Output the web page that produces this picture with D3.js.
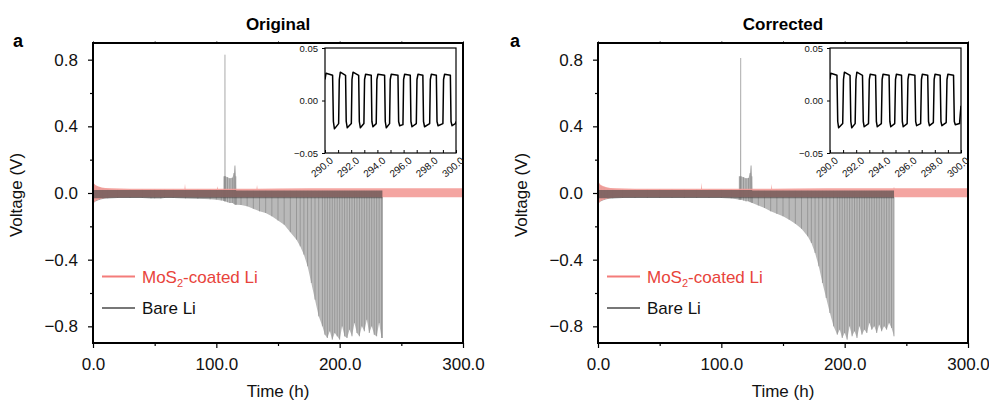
<!DOCTYPE html>
<html><head><meta charset="utf-8">
<script src="https://cdn.jsdelivr.net/npm/d3@7"></script>
<style>
body{margin:0;background:#fff}
svg{display:block}
text{font-family:"Liberation Sans",Arial,Helvetica,sans-serif}
</style>
</head><body>
<svg id="c" width="989" height="402"></svg>
<script>
// ---------- tick labels ----------
const xTicks = [0, 100, 200, 300];
const xMinor = [50, 150, 250];
const yTicks = [-0.8, -0.4, 0, 0.4, 0.8];
const yMinor = [-0.6, -0.2, 0.2, 0.6];
const insetXTicks = [290, 292, 294, 296, 298, 300];
const insetXMinor = [291, 293, 295, 297, 299];
const insetYTicks = [-0.05, 0, 0.05];
const panelTitles = ["Original", "Corrected"];
const seriesNames = ["MoS2-coated Li", "Bare Li"];

// ---------- Original: bare Li envelope (h, V) ----------
const origBareT = [0, 1, 3, 5, 8, 12, 20, 30, 40, 47, 50, 55, 58, 65, 75, 85, 95, 100, 104, 106.1, 106.2, 106.9, 107.0, 107.2, 109, 111, 113, 114.3, 115.1, 115.8, 116.1, 120, 125, 130, 135, 140, 145, 150, 155, 160, 165, 168, 171, 174, 177, 180, 183, 186, 188, 190, 192, 194, 196, 198, 200, 202, 204, 206, 208, 210, 212, 214, 216, 218, 220, 222, 224, 226, 228, 230, 232, 234, 234.6];
const origBareMin = [-0.065, -0.055, -0.048, -0.042, -0.036, -0.032, -0.03, -0.03, -0.03, -0.032, -0.032, -0.032, -0.03, -0.03, -0.032, -0.035, -0.038, -0.04, -0.045, -0.047, -0.048, -0.05, -0.05, -0.05, -0.055, -0.06, -0.06, -0.065, -0.07, -0.07, -0.07, -0.072, -0.08, -0.095, -0.11, -0.12, -0.14, -0.165, -0.19, -0.235, -0.28, -0.32, -0.37, -0.44, -0.54, -0.64, -0.74, -0.8, -0.85, -0.87, -0.83, -0.88, -0.84, -0.86, -0.88, -0.8, -0.86, -0.87, -0.82, -0.86, -0.78, -0.84, -0.86, -0.8, -0.83, -0.76, -0.84, -0.8, -0.85, -0.86, -0.78, -0.87, -0.87];
const origBareMax = [0.06, 0.05, 0.04, 0.035, 0.028, 0.024, 0.02, 0.02, 0.02, 0.02, 0.02, 0.02, 0.02, 0.02, 0.02, 0.02, 0.02, 0.02, 0.02, 0.02, 0.1, 0.1, 0.83, 0.1, 0.095, 0.088, 0.092, 0.12, 0.165, 0.1, 0.015, 0.015, 0.015, 0.015, 0.015, 0.015, 0.015, 0.015, 0.015, 0.015, 0.015, 0.015, 0.015, 0.015, 0.015, 0.015, 0.015, 0.015, 0.015, 0.015, 0.015, 0.015, 0.015, 0.015, 0.015, 0.015, 0.015, 0.015, 0.015, 0.015, 0.015, 0.015, 0.015, 0.015, 0.015, 0.015, 0.015, 0.015, 0.015, 0.015, 0.015, 0.015, 0.015];

// ---------- Original: MoS2-coated Li envelope ----------
const origRedT = [0, 1, 2, 4, 7, 10, 15, 30, 50, 74.2, 74.6, 75.0, 90, 100.6, 101, 101.4, 120, 132.6, 133, 133.4, 150, 175, 200, 225, 250, 275, 300];
const origRedMax = [0.065, 0.055, 0.048, 0.04, 0.033, 0.03, 0.028, 0.026, 0.026, 0.026, 0.055, 0.026, 0.026, 0.026, 0.04, 0.026, 0.026, 0.026, 0.048, 0.026, 0.027, 0.028, 0.028, 0.028, 0.028, 0.028, 0.028];
const origRedMin = [-0.065, -0.055, -0.048, -0.04, -0.033, -0.03, -0.027, -0.025, -0.025, -0.025, -0.025, -0.025, -0.025, -0.025, -0.025, -0.025, -0.025, -0.025, -0.025, -0.025, -0.025, -0.025, -0.025, -0.025, -0.025, -0.025, -0.025];

// ---------- Original inset (290-300 h) ----------
const origInsetT = [290.00, 290.08, 290.58, 290.64, 290.72, 291.04, 291.09, 291.17, 291.57, 291.62, 291.70, 292.01, 292.06, 292.14, 292.57, 292.62, 292.70, 292.97, 293.02, 293.10, 293.53, 293.58, 293.66, 293.91, 293.96, 294.04, 294.55, 294.60, 294.68, 294.93, 294.98, 295.06, 295.57, 295.62, 295.70, 295.95, 296.00, 296.08, 296.51, 296.56, 296.64, 296.97, 297.02, 297.10, 297.47, 297.52, 297.60, 297.99, 298.04, 298.12, 298.50, 298.55, 298.63, 299.00, 299.05, 299.13, 299.57, 299.62, 299.70, 299.95, 300.0];
const origInsetV = [0.020, 0.026, 0.024, -0.020, -0.027, -0.022, 0.020, 0.027, 0.024, -0.020, -0.026, -0.022, 0.020, 0.027, 0.024, -0.020, -0.026, -0.022, 0.020, 0.025, 0.024, -0.020, -0.025, -0.022, 0.020, 0.025, 0.024, -0.020, -0.026, -0.022, 0.020, 0.025, 0.024, -0.020, -0.024, -0.023, 0.020, 0.025, 0.024, -0.020, -0.025, -0.022, 0.020, 0.025, 0.024, -0.020, -0.025, -0.022, 0.020, 0.025, 0.024, -0.020, -0.024, -0.022, 0.020, 0.025, 0.024, -0.020, -0.024, -0.022, -0.020];

// ---------- Corrected: bare Li envelope ----------
const corrBareT = [0, 1, 3, 5, 8, 12, 20, 30, 40, 50, 60, 70, 80, 90, 100, 108, 114.5, 114.6, 115.5, 115.7, 115.9, 118, 120, 122, 123.3, 124.1, 124.8, 125.1, 130, 135, 140, 145, 150, 155, 160, 165, 170, 173, 176, 179, 182, 185, 188, 191, 194, 196, 198, 200, 202, 204, 206, 208, 210, 212, 214, 216, 218, 220, 222, 224, 226, 228, 230, 232, 234, 236, 238, 240];
const corrBareMin = [-0.065, -0.055, -0.048, -0.042, -0.036, -0.032, -0.03, -0.03, -0.03, -0.03, -0.03, -0.03, -0.03, -0.03, -0.03, -0.032, -0.04, -0.04, -0.04, -0.04, -0.04, -0.045, -0.05, -0.05, -0.055, -0.055, -0.06, -0.06, -0.075, -0.09, -0.11, -0.125, -0.14, -0.16, -0.185, -0.215, -0.26, -0.3, -0.36, -0.44, -0.54, -0.63, -0.72, -0.8, -0.85, -0.82, -0.87, -0.84, -0.88, -0.8, -0.86, -0.83, -0.87, -0.8, -0.85, -0.82, -0.84, -0.78, -0.82, -0.8, -0.84, -0.79, -0.83, -0.8, -0.82, -0.78, -0.81, -0.86];
const corrBareMax = [0.06, 0.05, 0.04, 0.035, 0.028, 0.024, 0.02, 0.02, 0.02, 0.02, 0.02, 0.02, 0.02, 0.02, 0.02, 0.02, 0.02, 0.1, 0.1, 0.81, 0.1, 0.095, 0.088, 0.09, 0.12, 0.165, 0.1, 0.015, 0.015, 0.015, 0.015, 0.015, 0.015, 0.015, 0.015, 0.015, 0.015, 0.015, 0.015, 0.015, 0.015, 0.015, 0.015, 0.015, 0.015, 0.015, 0.015, 0.015, 0.015, 0.015, 0.015, 0.015, 0.015, 0.015, 0.015, 0.015, 0.015, 0.015, 0.015, 0.015, 0.015, 0.015, 0.015, 0.015, 0.015, 0.015, 0.015, 0.015];

// ---------- Corrected: MoS2-coated Li envelope ----------
const corrRedT = [0, 1, 2, 4, 7, 10, 15, 30, 50, 70, 83.6, 84, 84.4, 100, 120, 140.4, 140.8, 141.2, 160, 185, 210, 239.6, 240, 240.4, 260, 280, 300];
const corrRedMax = [0.075, 0.06, 0.05, 0.042, 0.034, 0.03, 0.028, 0.026, 0.026, 0.026, 0.026, 0.062, 0.026, 0.026, 0.026, 0.026, 0.054, 0.026, 0.027, 0.028, 0.028, 0.028, 0.036, 0.028, 0.028, 0.028, 0.028];
const corrRedMin = [-0.07, -0.058, -0.05, -0.042, -0.034, -0.03, -0.027, -0.025, -0.025, -0.025, -0.025, -0.025, -0.025, -0.025, -0.025, -0.025, -0.025, -0.025, -0.025, -0.025, -0.025, -0.025, -0.025, -0.025, -0.025, -0.025, -0.025];

// ---------- Corrected inset (290-300 h) ----------
const corrInsetT = [290.00, 290.06, 290.53, 290.59, 290.66, 290.97, 291.03, 291.10, 291.53, 291.59, 291.66, 291.92, 291.98, 292.05, 292.48, 292.54, 292.61, 292.94, 293.00, 293.07, 293.48, 293.54, 293.61, 293.92, 293.98, 294.05, 294.51, 294.57, 294.64, 294.94, 295.00, 295.07, 295.46, 295.52, 295.59, 295.89, 295.95, 296.02, 296.48, 296.54, 296.61, 296.92, 296.98, 297.05, 297.46, 297.52, 297.59, 297.89, 297.95, 298.02, 298.41, 298.47, 298.54, 298.87, 298.93, 299.00, 299.43, 299.49, 299.56, 299.89, 299.95, 300.0];
const corrInsetV = [0.020, 0.026, 0.024, -0.020, -0.026, -0.022, 0.020, 0.027, 0.024, -0.020, -0.026, -0.022, 0.020, 0.027, 0.024, -0.020, -0.025, -0.022, 0.020, 0.025, 0.024, -0.020, -0.025, -0.022, 0.020, 0.025, 0.024, -0.020, -0.025, -0.022, 0.020, 0.025, 0.024, -0.020, -0.025, -0.022, 0.020, 0.025, 0.024, -0.020, -0.024, -0.022, 0.020, 0.025, 0.024, -0.020, -0.024, -0.021, 0.020, 0.025, 0.024, -0.020, -0.024, -0.021, 0.020, 0.025, 0.024, -0.020, -0.023, -0.022, -0.012, -0.005];

// ---------- build panel table ----------
function rows(T, A, B) { return T.map((t, i) => ({t, lo: A[i], hi: B[i]})); }
const panels = [
  {title: panelTitles[0], x0: 93, letterX: 13,
   bare: rows(origBareT, origBareMin, origBareMax), red: rows(origRedT, origRedMin, origRedMax),
   inset: origInsetT.map((t, i) => ({t, v: origInsetV[i]}))},
  {title: panelTitles[1], x0: 598, letterX: 510,
   bare: rows(corrBareT, corrBareMin, corrBareMax), red: rows(corrRedT, corrRedMin, corrRedMax),
   inset: corrInsetT.map((t, i) => ({t, v: corrInsetV[i]}))}
];

const svg = d3.select("#c");
const minus = s => s.replace("-", "\u2212");
const FW = 370, FT = 43, FB = 343;

panels.forEach((p, pi) => {
  const g = svg.append("g");
  const x = d3.scaleLinear().domain([0, 300]).range([p.x0, p.x0 + FW]);
  const y = d3.scaleLinear().domain([-0.9, 0.9]).range([FB, FT]);

  const clipId = "clip" + pi;
  svg.append("clipPath").attr("id", clipId).append("rect")
    .attr("x", p.x0).attr("y", FT).attr("width", FW).attr("height", FB - FT);
  const plot = g.append("g").attr("clip-path", `url(#${clipId})`);

  // bare Li light grey envelope
  const area = d3.area().x(d => x(d.t)).y0(d => y(d.lo)).y1(d => y(d.hi));
  plot.append("path").datum(p.bare).attr("d", area).attr("fill", "#b9b9b9");
  plot.selectAll("line.bv").data(p.bare).join("line").attr("class", "bv")
    .attr("x1", d => x(d.t)).attr("x2", d => x(d.t))
    .attr("y1", d => y(d.lo)).attr("y2", d => y(d.hi))
    .attr("stroke", "#8a8a8a").attr("stroke-width", 0.7);

  // MoS2 pink band
  plot.append("path").datum(p.red).attr("d", area).attr("fill", "#f39b97").attr("opacity", 0.9);

  // dark core of bare Li band
  const core = d3.area().x(d => x(d.t))
    .y0(d => y(Math.max(d.lo, -0.032))).y1(d => y(Math.min(d.hi, 0.018)));
  plot.append("path").datum(p.bare).attr("d", core).attr("fill", "#444").attr("opacity", 0.62);

  // axes
  const fs = 17;
  const ax = g.append("g").attr("transform", `translate(0,${FB})`)
    .call(d3.axisBottom(x).tickValues(xTicks).tickSize(5).tickPadding(10).tickFormat(d3.format(".1f")));
  const axm = g.append("g").attr("transform", `translate(0,${FB})`)
    .call(d3.axisBottom(x).tickValues(xMinor).tickSize(3).tickFormat(""));
  const axt = g.append("g").attr("transform", `translate(0,${FT})`)
    .call(d3.axisTop(x).tickValues(xMinor.concat(xTicks)).tickSize(2).tickFormat(""));
  const ay = g.append("g").attr("transform", `translate(${p.x0},0)`)
    .call(d3.axisLeft(y).tickValues(yTicks).tickSize(5).tickPadding(10).tickFormat(d => minus(d3.format(".1f")(d))));
  const aym = g.append("g").attr("transform", `translate(${p.x0},0)`)
    .call(d3.axisLeft(y).tickValues(yMinor).tickSize(3).tickFormat(""));
  [ax, axm, axt, ay, aym].forEach(a => {
    a.select(".domain").remove();
    a.selectAll("line").attr("stroke", "#000").attr("stroke-width", 1.2);
    a.selectAll("text").attr("font-size", fs).attr("fill", "#111")
      .attr("font-family", '"Liberation Sans",Arial,sans-serif');
  });
  axt.selectAll("line").attr("stroke", "#777").attr("stroke-width", 1);

  // frame
  g.append("rect").attr("x", p.x0).attr("y", FT).attr("width", FW).attr("height", FB - FT)
    .attr("fill", "none").attr("stroke", "#000").attr("stroke-width", 2);

  // titles, labels
  g.append("text").attr("x", p.x0 + FW / 2).attr("y", 30).attr("text-anchor", "middle")
    .attr("font-size", 17).attr("font-weight", "bold").text(p.title);
  g.append("text").attr("x", p.letterX).attr("y", 47).attr("font-size", 18)
    .attr("font-weight", "bold").text("a");
  g.append("text").attr("x", p.x0 + FW / 2).attr("y", 397).attr("text-anchor", "middle")
    .attr("font-size", fs).attr("fill", "#111").text("Time (h)");
  g.append("text").attr("transform", `translate(${p.x0 - 71},195) rotate(-90)`)
    .attr("text-anchor", "middle").attr("font-size", fs).attr("fill", "#111").text("Voltage (V)");

  // legend
  const lx = p.x0 + 9;
  g.append("line").attr("x1", lx).attr("x2", lx + 33).attr("y1", 276.5).attr("y2", 276.5)
    .attr("stroke", "#f47c7a").attr("stroke-width", 2);
  const t1 = g.append("text").attr("x", lx + 40).attr("y", 282.5).attr("font-size", fs).attr("fill", "#e8433b");
  t1.append("tspan").text("MoS");
  t1.append("tspan").attr("font-size", 11).attr("dy", 4).text("2");
  t1.append("tspan").attr("dy", -4).text("-coated Li");
  g.append("line").attr("x1", lx).attr("x2", lx + 33).attr("y1", 308).attr("y2", 308)
    .attr("stroke", "#4a4a4a").attr("stroke-width", 1.6);
  g.append("text").attr("x", lx + 40).attr("y", 314).attr("font-size", fs).attr("fill", "#111").text(seriesNames[1]);

  // inset
  const ix0 = p.x0 + 232, IW = 131, IT = 48, IB = 153;
  const xi = d3.scaleLinear().domain([290, 300]).range([ix0, ix0 + IW]);
  const yi = d3.scaleLinear().domain([-0.05, 0.05]).range([IB, IT]);
  g.append("rect").attr("x", ix0).attr("y", IT).attr("width", IW).attr("height", IB - IT).attr("fill", "#fff");
  const iclip = "iclip" + pi;
  svg.append("clipPath").attr("id", iclip).append("rect")
    .attr("x", ix0).attr("y", IT).attr("width", IW).attr("height", IB - IT);
  g.append("path").datum(p.inset).attr("clip-path", `url(#${iclip})`)
    .attr("d", d3.line().x(d => xi(d.t)).y(d => yi(d.v)))
    .attr("fill", "none").attr("stroke", "#000").attr("stroke-width", 1.5).attr("stroke-linejoin", "round");
  const iy = g.append("g").attr("transform", `translate(${ix0},0)`)
    .call(d3.axisLeft(yi).tickValues(insetYTicks).tickSize(3).tickPadding(4)
      .tickFormat(d => minus(d3.format(".2f")(d))));
  const ixa = g.append("g").attr("transform", `translate(0,${IB})`)
    .call(d3.axisBottom(xi).tickValues(insetXTicks.concat(insetXMinor)).tickSize(-3).tickFormat(""));
  [iy, ixa].forEach(a => {
    a.select(".domain").remove();
    a.selectAll("line").attr("stroke", "#000").attr("stroke-width", 1);
    a.selectAll("text").attr("font-size", 9.5).attr("fill", "#111")
      .attr("font-family", '"Liberation Sans",Arial,sans-serif');
  });
  g.selectAll(null).data(insetXTicks).join("text")
    .attr("transform", d => `translate(${xi(d) + 4},${IB + 3}) rotate(-40)`)
    .attr("text-anchor", "end").attr("dy", "0.75em").attr("font-size", 10).attr("fill", "#111")
    .text(d => d3.format(".1f")(d));
  g.append("rect").attr("x", ix0).attr("y", IT).attr("width", IW).attr("height", IB - IT)
    .attr("fill", "none").attr("stroke", "#000").attr("stroke-width", 1.2);
});
</script>
</body></html>
